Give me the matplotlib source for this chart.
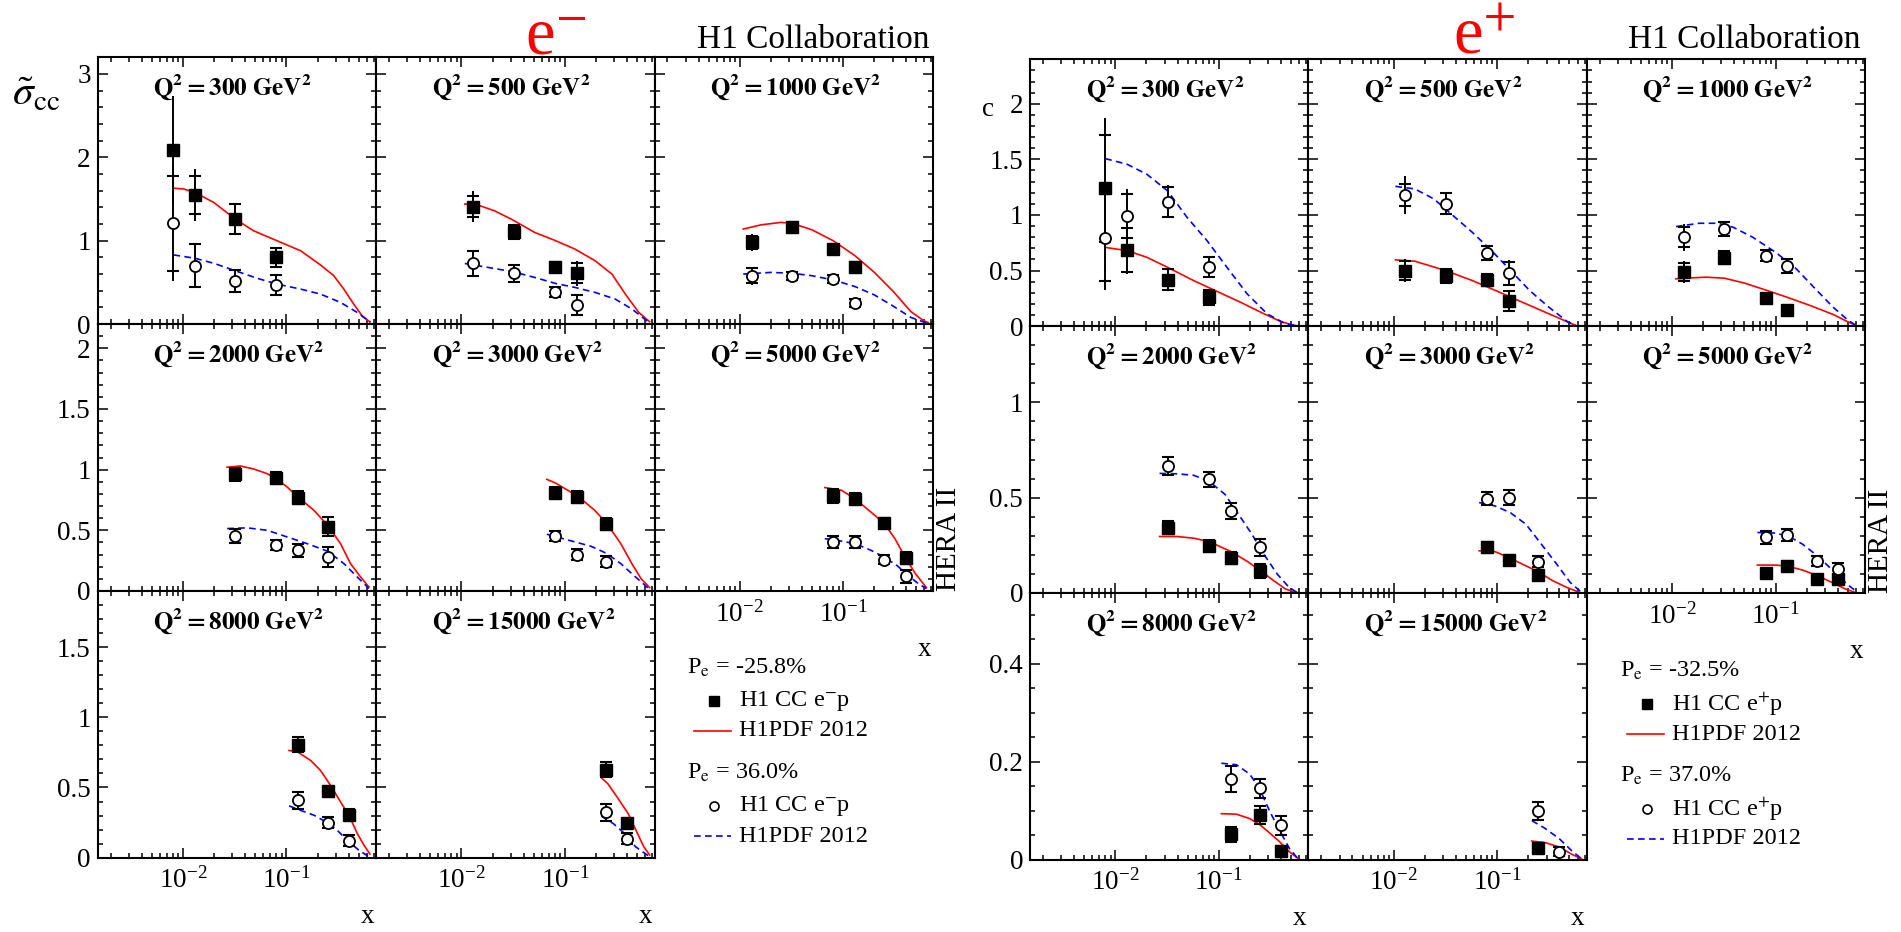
import matplotlib
matplotlib.use("Agg")
import matplotlib.pyplot as plt
from matplotlib.ticker import LogLocator, MultipleLocator, FuncFormatter, NullFormatter

W, H = 1901, 932

plt.rcParams["font.family"] = "serif"
plt.rcParams["font.serif"] = ["Liberation Serif", "DejaVu Serif"]
plt.rcParams["mathtext.fontset"] = "stix"

Q2_BINS = [300, 500, 1000, 2000, 3000, 5000, 8000, 15000]

# reduced CC cross section points: (x, sigma, stat, total)
# e-p, Pe = -25.8 %
EM_LEFT = {
    300: [(0.008, 2.09, 0.0, 0.65), (0.013, 1.55, 0.23, 0.31), (0.032, 1.26, 0.18, 0.19), (0.08, 0.80, 0.115, 0.12)],
    500: [(0.013, 1.41, 0.13, 0.19), (0.032, 1.10, 0.085, 0.09), (0.08, 0.68, 0.06, 0.065), (0.13, 0.61, 0.12, 0.15)],
    1000: [(0.013, 0.98, 0.08, 0.10), (0.032, 1.17, 0.05, 0.055), (0.08, 0.90, 0.045, 0.05), (0.13, 0.69, 0.06, 0.065)],
    2000: [(0.032, 0.96, 0.055, 0.06), (0.08, 0.93, 0.05, 0.055), (0.13, 0.77, 0.05, 0.055), (0.25, 0.53, 0.08, 0.085)],
    3000: [(0.08, 0.81, 0.045, 0.05), (0.13, 0.775, 0.05, 0.05), (0.25, 0.55, 0.05, 0.055)],
    5000: [(0.08, 0.783, 0.055, 0.06), (0.13, 0.76, 0.045, 0.05), (0.25, 0.56, 0.04, 0.04), (0.4, 0.272, 0.05, 0.05)],
    8000: [(0.13, 0.806, 0.055, 0.06), (0.25, 0.475, 0.028, 0.03), (0.4, 0.307, 0.04, 0.04)],
    15000: [(0.25, 0.626, 0.053, 0.056), (0.4, 0.248, 0.025, 0.025)],
}
# e-p, Pe = +36.0 %
EM_RIGHT = {
    300: [(0.008, 1.21, 0.57, 0.69), (0.013, 0.70, 0.255, 0.26), (0.032, 0.52, 0.13, 0.13), (0.08, 0.47, 0.12, 0.12)],
    500: [(0.013, 0.727, 0.15, 0.15), (0.032, 0.61, 0.10, 0.10), (0.08, 0.39, 0.06, 0.06), (0.13, 0.23, 0.115, 0.115)],
    1000: [(0.013, 0.58, 0.09, 0.11), (0.032, 0.58, 0.05, 0.055), (0.08, 0.54, 0.05, 0.05), (0.13, 0.25, 0.05, 0.05)],
    2000: [(0.032, 0.453, 0.055, 0.055), (0.08, 0.376, 0.04, 0.04), (0.13, 0.335, 0.055, 0.055), (0.25, 0.28, 0.08, 0.08)],
    3000: [(0.08, 0.453, 0.045, 0.045), (0.13, 0.30, 0.045, 0.045), (0.25, 0.24, 0.045, 0.045)],
    5000: [(0.08, 0.40, 0.05, 0.05), (0.13, 0.404, 0.047, 0.047), (0.25, 0.258, 0.04, 0.04), (0.4, 0.12, 0.055, 0.055)],
    8000: [(0.13, 0.41, 0.06, 0.06), (0.25, 0.248, 0.04, 0.04), (0.4, 0.12, 0.04, 0.04)],
    15000: [(0.25, 0.324, 0.06, 0.06), (0.4, 0.135, 0.038, 0.038)],
}
# e+p, Pe = -32.5 %
EP_LEFT = {
    300: [(0.008, 1.24, 0.48, 0.63), (0.013, 0.685, 0.195, 0.215), (0.032, 0.419, 0.095, 0.10), (0.08, 0.26, 0.068, 0.07)],
    500: [(0.013, 0.50, 0.085, 0.105), (0.032, 0.452, 0.064, 0.065), (0.08, 0.416, 0.057, 0.06), (0.13, 0.222, 0.09, 0.095)],
    1000: [(0.013, 0.485, 0.08, 0.097), (0.032, 0.614, 0.058, 0.06), (0.08, 0.251, 0.035, 0.035), (0.13, 0.147, 0.035, 0.035)],
    2000: [(0.032, 0.343, 0.035, 0.035), (0.08, 0.247, 0.03, 0.03), (0.13, 0.183, 0.03, 0.03), (0.25, 0.117, 0.037, 0.037)],
    3000: [(0.08, 0.239, 0.028, 0.028), (0.13, 0.172, 0.027, 0.027), (0.25, 0.096, 0.026, 0.026)],
    5000: [(0.08, 0.103, 0.023, 0.023), (0.13, 0.143, 0.026, 0.026), (0.25, 0.073, 0.02, 0.02), (0.4, 0.073, 0.022, 0.022)],
    8000: [(0.13, 0.052, 0.015, 0.015), (0.25, 0.091, 0.018, 0.018), (0.4, 0.018, 0.009, 0.009)],
    15000: [(0.25, 0.023, 0.01, 0.01)],
}
# e+p, Pe = +37.0 %
EP_RIGHT = {
    300: [(0.008, 0.795, 0.39, 0.47), (0.013, 0.99, 0.20, 0.24), (0.032, 1.118, 0.136, 0.15), (0.08, 0.53, 0.09, 0.09)],
    500: [(0.013, 1.18, 0.10, 0.17), (0.032, 1.10, 0.093, 0.095), (0.08, 0.656, 0.063, 0.065), (0.13, 0.476, 0.105, 0.117)],
    1000: [(0.013, 0.80, 0.09, 0.12), (0.032, 0.874, 0.063, 0.065), (0.08, 0.635, 0.05, 0.05), (0.13, 0.542, 0.065, 0.065)],
    2000: [(0.032, 0.666, 0.047, 0.047), (0.08, 0.596, 0.04, 0.04), (0.13, 0.43, 0.04, 0.04), (0.25, 0.239, 0.045, 0.045)],
    3000: [(0.08, 0.495, 0.033, 0.033), (0.13, 0.50, 0.04, 0.04), (0.25, 0.164, 0.03, 0.03)],
    5000: [(0.08, 0.291, 0.033, 0.033), (0.13, 0.303, 0.032, 0.032), (0.25, 0.169, 0.026, 0.026), (0.4, 0.125, 0.033, 0.033)],
    8000: [(0.13, 0.165, 0.026, 0.026), (0.25, 0.146, 0.019, 0.019), (0.4, 0.07, 0.02, 0.02)],
    15000: [(0.25, 0.0994, 0.019, 0.019), (0.4, 0.016, 0.009, 0.009)],
}

# H1PDF 2012 predictions: (x list, sigma list)
EM_LEFT_PDF = {
    300: ([0.0081, 0.0102, 0.013, 0.0198, 0.032, 0.048, 0.081, 0.137, 0.213, 0.287, 0.358, 0.447, 0.538, 0.635],
          [1.63, 1.62, 1.58, 1.46, 1.26, 1.12, 1.00, 0.88, 0.71, 0.58, 0.42, 0.24, 0.10, 0.03]),
    500: ([0.0108, 0.0143, 0.0208, 0.0303, 0.051, 0.0817, 0.125, 0.196, 0.285, 0.384, 0.518, 0.658],
          [1.44, 1.43, 1.36, 1.26, 1.10, 1.00, 0.90, 0.76, 0.60, 0.36, 0.14, 0.03]),
    1000: ([0.0108, 0.016, 0.025, 0.032, 0.05, 0.08, 0.13, 0.2, 0.3, 0.45, 0.6, 0.66],
           [1.14, 1.19, 1.22, 1.21, 1.13, 1.0, 0.82, 0.62, 0.40, 0.15, 0.04, 0.02]),
    2000: ([0.0267, 0.0359, 0.0483, 0.065, 0.079, 0.1015, 0.129, 0.184, 0.251, 0.333, 0.416, 0.52, 0.626],
           [1.02, 1.03, 1.005, 0.967, 0.926, 0.857, 0.775, 0.665, 0.54, 0.39, 0.225, 0.115, 0.033]),
    3000: ([0.067, 0.081, 0.134, 0.194, 0.255, 0.347, 0.444, 0.546, 0.66],
           [0.92, 0.89, 0.78, 0.665, 0.555, 0.39, 0.225, 0.10, 0.027]),
    5000: ([0.0663, 0.096, 0.13, 0.185, 0.247, 0.316, 0.395, 0.497, 0.636],
           [0.852, 0.83, 0.76, 0.65, 0.56, 0.43, 0.28, 0.143, 0.027]),
    8000: ([0.106, 0.129, 0.171, 0.213, 0.267, 0.333, 0.401, 0.483, 0.56, 0.64],
           [0.764, 0.752, 0.693, 0.622, 0.515, 0.397, 0.303, 0.173, 0.09, 0.026]),
    15000: ([0.225, 0.26, 0.319, 0.409, 0.503, 0.579, 0.66],
            [0.57, 0.527, 0.433, 0.314, 0.173, 0.078, 0.019]),
}
EM_RIGHT_PDF = {
    300: ([0.0081, 0.013, 0.0198, 0.032, 0.052, 0.081, 0.137, 0.213, 0.333, 0.483, 0.65],
          [0.83, 0.79, 0.73, 0.64, 0.55, 0.48, 0.42, 0.36, 0.26, 0.14, 0.02]),
    500: ([0.0108, 0.0208, 0.0318, 0.051, 0.0817, 0.125, 0.196, 0.307, 0.446, 0.649],
          [0.727, 0.667, 0.627, 0.56, 0.487, 0.44, 0.38, 0.30, 0.18, 0.02]),
    1000: ([0.0108, 0.02, 0.032, 0.05, 0.08, 0.13, 0.2, 0.3, 0.45, 0.65],
           [0.60, 0.62, 0.61, 0.58, 0.53, 0.45, 0.35, 0.22, 0.08, 0.01]),
    2000: ([0.0267, 0.0416, 0.065, 0.1015, 0.158, 0.251, 0.359, 0.483, 0.626],
           [0.514, 0.52, 0.50, 0.445, 0.39, 0.327, 0.225, 0.115, 0.02]),
    3000: ([0.067, 0.1087, 0.179, 0.255, 0.347, 0.482, 0.645],
           [0.467, 0.418, 0.368, 0.308, 0.225, 0.115, 0.02]),
    5000: ([0.0663, 0.096, 0.13, 0.185, 0.247, 0.33, 0.422, 0.54, 0.636],
           [0.431, 0.41, 0.39, 0.335, 0.28, 0.21, 0.129, 0.055, 0.02]),
    8000: ([0.106, 0.136, 0.184, 0.251, 0.309, 0.401, 0.50, 0.626],
           [0.369, 0.338, 0.303, 0.248, 0.196, 0.113, 0.054, 0.007]),
    15000: ([0.225, 0.294, 0.377, 0.482, 0.645],
            [0.296, 0.243, 0.173, 0.078, 0.012]),
}
EP_LEFT_PDF = {
    300: ([0.008, 0.013, 0.0202, 0.032, 0.057, 0.1, 0.162, 0.253, 0.395, 0.532, 0.64],
          [0.708, 0.679, 0.619, 0.529, 0.41, 0.305, 0.215, 0.126, 0.042, 0.006, 0.0]),
    500: ([0.0104, 0.016, 0.0316, 0.0575, 0.1, 0.174, 0.29, 0.445, 0.574],
          [0.596, 0.584, 0.50, 0.41, 0.314, 0.216, 0.126, 0.051, 0.006]),
    1000: ([0.0109, 0.0153, 0.0215, 0.032, 0.0505, 0.0795, 0.129, 0.215, 0.36, 0.506, 0.6],
           [0.425, 0.434, 0.44, 0.431, 0.386, 0.326, 0.26, 0.186, 0.105, 0.036, 0.006]),
    2000: ([0.0268, 0.0395, 0.0573, 0.08, 0.13, 0.188, 0.253, 0.34, 0.44, 0.57],
           [0.296, 0.296, 0.287, 0.27, 0.218, 0.166, 0.117, 0.064, 0.021, 0.0]),
    3000: ([0.067, 0.096, 0.129, 0.174, 0.245, 0.344, 0.484, 0.625],
           [0.221, 0.216, 0.186, 0.152, 0.113, 0.064, 0.026, 0.003]),
    5000: ([0.0668, 0.1, 0.129, 0.182, 0.253, 0.363, 0.47, 0.608],
           [0.146, 0.146, 0.141, 0.12, 0.091, 0.051, 0.021, 0.0]),
    8000: ([0.106, 0.148, 0.199, 0.248, 0.309, 0.386, 0.482, 0.58],
           [0.094, 0.093, 0.084, 0.072, 0.055, 0.037, 0.016, 0.003]),
    15000: ([0.216, 0.29, 0.398, 0.527, 0.653],
            [0.038, 0.035, 0.026, 0.011, 0.002]),
}
EP_RIGHT_PDF = {
    300: ([0.008, 0.013, 0.0202, 0.032, 0.0494, 0.077, 0.12, 0.188, 0.294, 0.442, 0.617],
          [1.507, 1.456, 1.366, 1.217, 0.978, 0.769, 0.529, 0.29, 0.11, 0.02, 0.0]),
    500: ([0.0104, 0.016, 0.0245, 0.0375, 0.0575, 0.088, 0.135, 0.206, 0.316, 0.484, 0.574],
          [1.257, 1.234, 1.144, 0.994, 0.844, 0.68, 0.50, 0.32, 0.17, 0.036, 0.006]),
    1000: ([0.0109, 0.0182, 0.0278, 0.039, 0.06, 0.1, 0.153, 0.234, 0.36, 0.506, 0.6],
           [0.895, 0.925, 0.925, 0.889, 0.80, 0.664, 0.53, 0.35, 0.17, 0.05, 0.006]),
    2000: ([0.0268, 0.0395, 0.0573, 0.08, 0.115, 0.155, 0.209, 0.272, 0.367, 0.476, 0.58],
           [0.627, 0.625, 0.617, 0.587, 0.517, 0.413, 0.308, 0.204, 0.099, 0.03, 0.0]),
    3000: ([0.067, 0.096, 0.135, 0.19, 0.267, 0.375, 0.506, 0.653],
           [0.474, 0.456, 0.42, 0.36, 0.256, 0.152, 0.056, 0.003]),
    5000: ([0.0668, 0.1, 0.135, 0.182, 0.253, 0.333, 0.431, 0.534, 0.634],
           [0.317, 0.314, 0.296, 0.256, 0.195, 0.134, 0.073, 0.03, 0.0]),
    8000: ([0.106, 0.148, 0.199, 0.248, 0.309, 0.386, 0.482, 0.593],
           [0.197, 0.194, 0.175, 0.145, 0.10, 0.06, 0.023, 0.0]),
    15000: ([0.216, 0.29, 0.398, 0.527, 0.653],
            [0.080, 0.064, 0.043, 0.018, 0.002]),
}

EM_POL = ["-25.8%", "36.0%"]
EP_POL = ["-32.5%", "37.0%"]

# y ranges per row and (major, minor) tick steps
EM_YMAX = [3.2, 2.2, 1.9]
EM_YTICKS = [(1.0, 0.2), (0.5, 0.1), (0.5, 0.1)]
EP_YMAX = [2.4, 1.4, 0.545]
EP_YTICKS = [(0.5, 0.1), (0.5, 0.1), (0.2, 0.05)]

XMIN, XMAX = 1.5e-3, 0.735
PANEL_W, PANEL_H = 278.4, 266.8


def fx(px):
    return px / W


def fy(py):
    return 1 - py / H


def draw_points(ax, pts, filled):
    x = [p[0] for p in pts]
    y = [p[1] for p in pts]
    stat = [p[2] for p in pts]
    tot = [p[3] for p in pts]
    ax.errorbar(x, y, yerr=tot, fmt="none", ecolor="k", elinewidth=1.4, capsize=0, zorder=3)
    ax.errorbar(x, y, yerr=stat, fmt="none", ecolor="k", elinewidth=0, capsize=4.5, capthick=1.5, zorder=3)
    if filled:
        ax.plot(x, y, "s", color="k", ms=8.5, zorder=4)
    else:
        ax.plot(x, y, "o", mfc="white", mec="k", mew=1.3, ms=8, zorder=4)


def make_block(fig, left, top, ymaxes, ysteps, d_left, d_right, c_left, c_right):
    for k, q2 in enumerate(Q2_BINS):
        row, col = divmod(k, 3)
        x0 = left + col * PANEL_W
        y0 = top + row * PANEL_H
        ax = fig.add_axes([fx(x0), fy(y0 + PANEL_H), PANEL_W / W, PANEL_H / H])
        ax.set_xscale("log")
        ax.set_xlim(XMIN, XMAX)
        ax.set_ylim(0, ymaxes[row])
        ax.xaxis.set_major_locator(LogLocator(base=10, numticks=10))
        ax.xaxis.set_minor_locator(LogLocator(base=10, subs=range(2, 10), numticks=30))
        ax.xaxis.set_minor_formatter(NullFormatter())
        ax.yaxis.set_major_locator(MultipleLocator(ysteps[row][0]))
        ax.yaxis.set_minor_locator(MultipleLocator(ysteps[row][1]))
        ax.yaxis.set_major_formatter(FuncFormatter(lambda v, p: f"{v:g}"))
        ax.tick_params(which="both", direction="in", top=True, right=True, width=1.1, labelsize=19.5)
        ax.tick_params(which="major", length=7)
        ax.tick_params(which="minor", length=3.5)
        ax.tick_params(axis="x", pad=7)
        ax.tick_params(axis="y", pad=5)
        for s in ax.spines.values():
            s.set_linewidth(1.5)

        bottom = row == 2 or (row == 1 and col == 2)
        if not bottom:
            ax.tick_params(axis="x", labelbottom=False)
        else:
            fig.text(fx(x0 + PANEL_W - 2), fy(y0 + PANEL_H + 59), "x", ha="right", va="center", fontsize=19.5)
        if col != 0:
            ax.tick_params(axis="y", labelleft=False)

        cx, cy = c_left[q2]
        ax.plot(cx, cy, "-", color="#ff0000", lw=1.2, zorder=2)
        cx, cy = c_right[q2]
        ax.plot(cx, cy, "--", color="#0000ff", lw=1.2, dashes=(4, 2.6), zorder=2)
        draw_points(ax, d_left[q2], True)
        draw_points(ax, d_right[q2], False)

        ax.text(0.2, 0.887, r"$\mathbf{Q^{2} = %d\ GeV^{2}}$" % q2, transform=ax.transAxes,
                ha="left", va="center", fontsize=18)


def draw_legend(ov, x0, y0, pols, lepton):
    # Pe header, marker row, curve row for both polarisations
    rows = [(0, "s", "-", "#ff0000"), (105, "o", "--", "#0000ff")]
    for (dy, mk, ls, col), pol in zip(rows, pols):
        ov.text(x0, y0 + dy, r"P$_{\rm e}$ = " + pol, ha="left", va="center", fontsize=17.5)
        if mk == "s":
            ov.plot([x0 + 27], [y0 + dy + 33], "s", color="k", ms=6.5)
        else:
            ov.plot([x0 + 27], [y0 + dy + 33], "o", mfc="white", mec="k", mew=1.2, ms=6.5)
        ov.text(x0 + 52, y0 + dy + 33, "H1 CC e$^{%s}$p" % lepton, ha="left", va="center", fontsize=17.5)
        if ls == "-":
            ov.plot([x0 + 7, x0 + 44], [y0 + dy + 63, y0 + dy + 63], "-", color=col, lw=1.2)
        else:
            ov.plot([x0 + 7, x0 + 44], [y0 + dy + 63, y0 + dy + 63], "--", color=col, lw=1.2, dashes=(4, 2.6))
        ov.text(x0 + 52, y0 + dy + 63, "H1PDF 2012", ha="left", va="center", fontsize=17.5)


fig = plt.figure(figsize=(W / 100, H / 100), dpi=100)

make_block(fig, 97.7, 57.3, EM_YMAX, EM_YTICKS, EM_LEFT, EM_RIGHT, EM_LEFT_PDF, EM_RIGHT_PDF)
make_block(fig, 1030.0, 59.3, EP_YMAX, EP_YTICKS, EP_LEFT, EP_RIGHT, EP_LEFT_PDF, EP_RIGHT_PDF)

ov = fig.add_axes([0, 0, 1, 1])
ov.set_xlim(0, W)
ov.set_ylim(H, 0)
ov.axis("off")
ov.patch.set_alpha(0)

draw_legend(ov, 687, 668, EM_POL, "-")
draw_legend(ov, 1620, 671, EP_POL, "+")

# headers
fig.text(fx(556), fy(54), r"e$^{-}$", color="#ff0000", fontsize=48, ha="center", va="baseline")
fig.text(fx(1484), fy(54), r"e$^{+}$", color="#ff0000", fontsize=48, ha="center", va="baseline")
fig.text(fx(929), fy(48), "H1 Collaboration", fontsize=24, ha="right", va="baseline")
fig.text(fx(1860), fy(48), "H1 Collaboration", fontsize=24, ha="right", va="baseline")
fig.text(fx(949), fy(591), "HERA II", fontsize=21, rotation=90, ha="center", va="bottom")
fig.text(fx(1881), fy(593), "HERA II", fontsize=21, rotation=90, ha="center", va="bottom")
fig.text(fx(36), fy(95), r"$\tilde{\sigma}_{\rm cc}$", fontsize=30, ha="center", va="center")
fig.text(fx(988), fy(110), "c", fontsize=19.5, ha="center", va="center")

fig.savefig("out.png", dpi=100)
